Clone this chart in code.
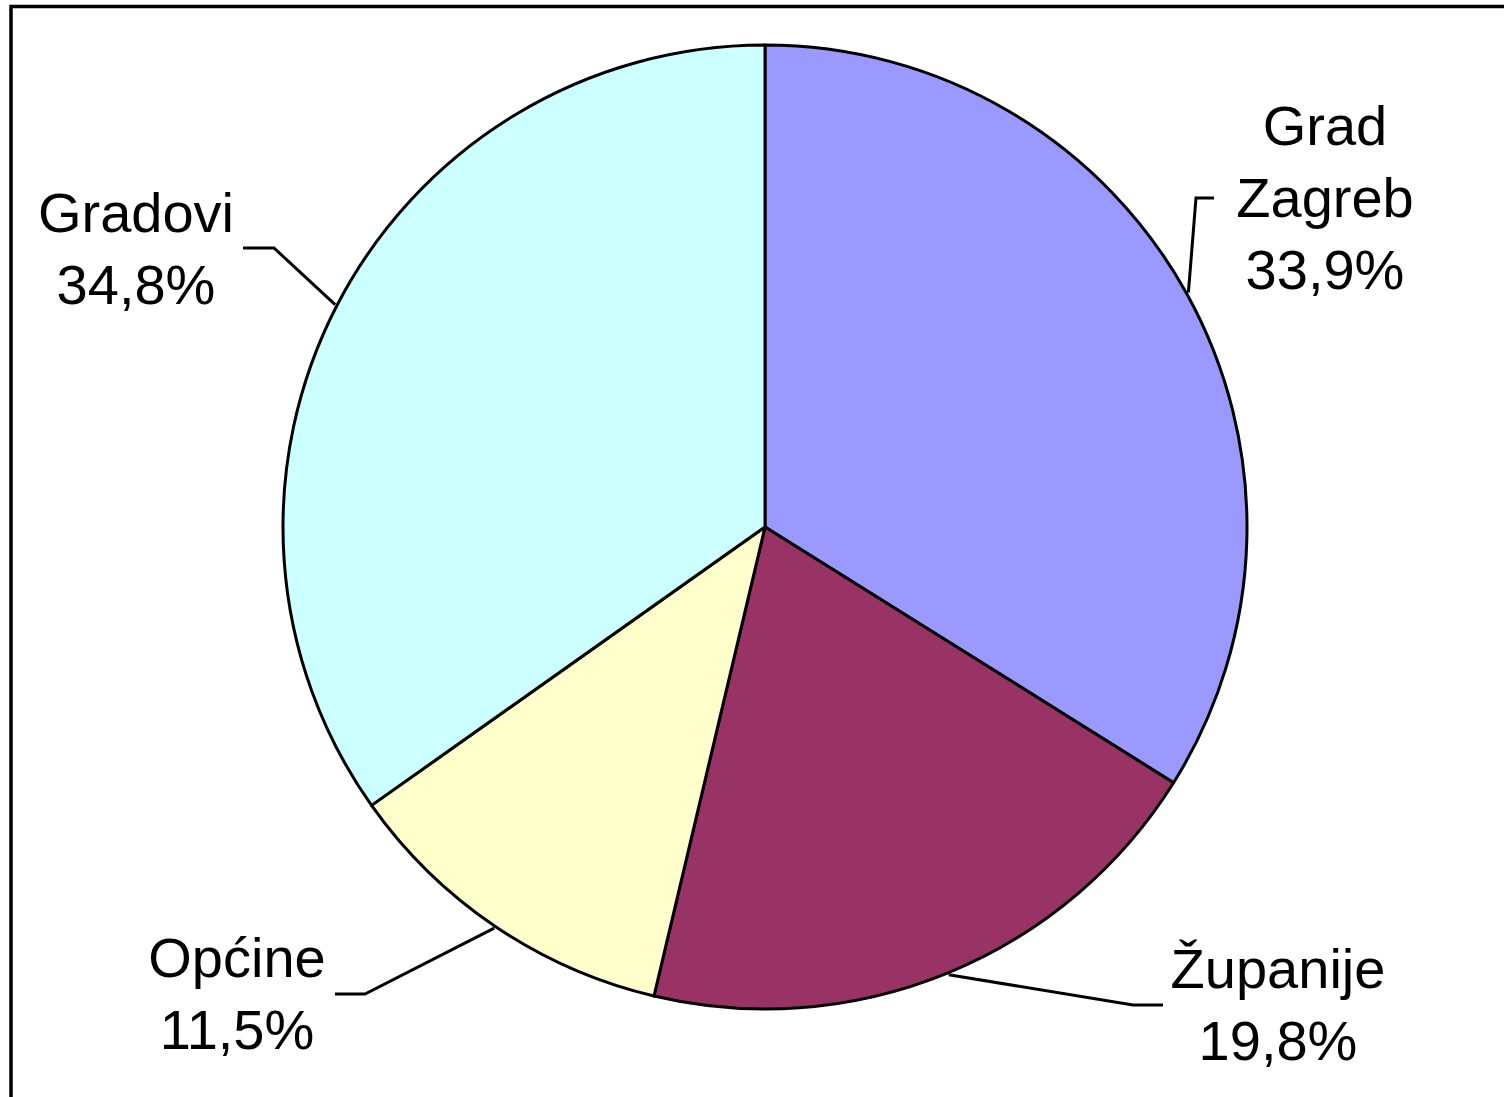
<!DOCTYPE html>
<html>
<head>
<meta charset="utf-8">
<script src="https://cdn.jsdelivr.net/npm/d3@7"></script>
<style>
  html, body { margin: 0; padding: 0; background: #fff; }
  svg { display: block; }
  text { font-family: "Liberation Sans", Arial, sans-serif; font-size: 56px; fill: #000; }
</style>
</head>
<body>
<div id="chart"></div>
<script>
"use strict";

// slice data (clockwise from 12 o'clock)
var labels = ["Grad Zagreb", "Županije", "Općine", "Gradovi"];
var shares = [33.9, 19.8, 11.5, 34.8];
var colors = ["#9999FF", "#993366", "#FFFFCC", "#CCFFFF"];

var width = 1504,
  height = 1097;

var cx = 765,
  cy = 527,
  radius = 482;

// label layout: elbow of leader line, end of leader line, text centre and first baseline
var labelLayout = [
  { lines: ["Grad", "Zagreb", "33,9%"], elbow: [1196, 198], end: [1214, 198], tx: 1325, ty: 145 },
  { lines: ["Županije", "19,8%"], elbow: [1133, 1005], end: [1163, 1005], tx: 1278, ty: 988 },
  { lines: ["Općine", "11,5%"], elbow: [365, 994], end: [335, 994], tx: 237, ty: 977 },
  { lines: ["Gradovi", "34,8%"], elbow: [274, 248], end: [243, 248], tx: 136, ty: 232 }
];

var svg = d3
  .select("#chart")
  .append("svg")
  .attr("width", width)
  .attr("height", height);

// outer frame (runs off the right and bottom edges)
svg
  .append("rect")
  .attr("x", 11)
  .attr("y", 6.5)
  .attr("width", 1700)
  .attr("height", 1300)
  .attr("fill", "none")
  .attr("stroke", "#000")
  .attr("stroke-width", 3.5);

var pie = d3
  .pie()
  .sort(null)
  .value(function(d) {
    return d;
  });

var arcs = pie(shares);

var arc = d3
  .arc()
  .innerRadius(0)
  .outerRadius(radius);

var g = svg.append("g").attr("transform", "translate(" + cx + "," + cy + ")");

g.selectAll("path")
  .data(arcs)
  .enter()
  .append("path")
  .attr("d", arc)
  .attr("fill", function(d, i) {
    return colors[i];
  })
  .attr("stroke", "#000")
  .attr("stroke-width", 3)
  .attr("stroke-linejoin", "round");

// leader lines start at the slice's mid angle on the rim
svg
  .selectAll("polyline.leader")
  .data(arcs)
  .enter()
  .append("polyline")
  .attr("class", "leader")
  .attr("points", function(d, i) {
    var a = (d.startAngle + d.endAngle) / 2;
    var sx = cx + Math.sin(a) * (radius + 2);
    var sy = cy - Math.cos(a) * (radius + 2);
    var L = labelLayout[i];
    return [[sx, sy], L.elbow, L.end].map(function(p) {
      return p.join(",");
    }).join(" ");
  })
  .attr("fill", "none")
  .attr("stroke", "#000")
  .attr("stroke-width", 3);

var texts = svg
  .selectAll("text.lbl")
  .data(labelLayout)
  .enter()
  .append("text")
  .attr("class", "lbl")
  .attr("text-anchor", "middle")
  .attr("x", function(d) {
    return d.tx;
  })
  .attr("y", function(d) {
    return d.ty;
  });

texts
  .selectAll("tspan")
  .data(function(d) {
    return d.lines.map(function(s) {
      return { s: s, x: d.tx };
    });
  })
  .enter()
  .append("tspan")
  .attr("x", function(d) {
    return d.x;
  })
  .attr("dy", function(d, i) {
    return i === 0 ? 0 : 72;
  })
  .text(function(d) {
    return d.s;
  });
</script>
</body>
</html>
